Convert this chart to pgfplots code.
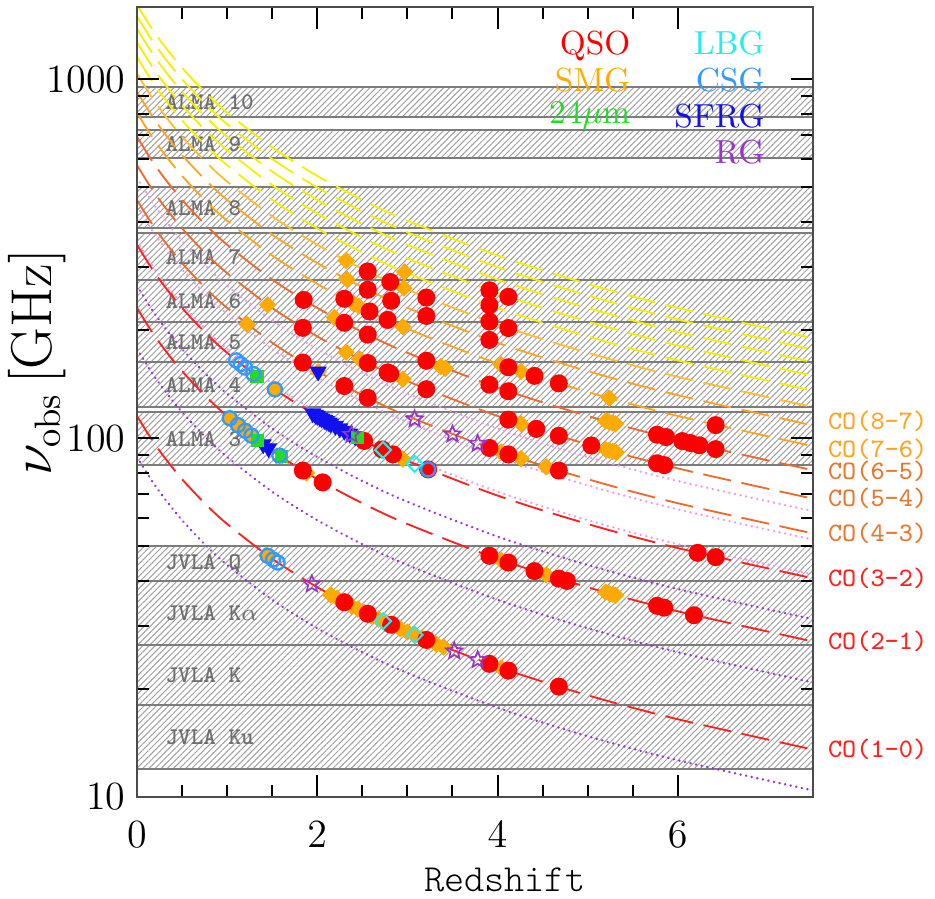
\documentclass[border=0pt]{standalone}
\usepackage{pgfplots}
\pgfplotsset{compat=1.18}
\usepackage{pgfplotstable}
\usetikzlibrary{patterns.meta}

\definecolor{cored}{HTML}{FF2020}
\definecolor{coorange}{HTML}{EC6A2C}
\definecolor{colabelorange}{HTML}{E8782E}
\definecolor{colightorange}{HTML}{FFA420}
\definecolor{coamber}{HTML}{FFBE30}
\definecolor{coyellow}{HTML}{F4F000}
\definecolor{hcnpurple}{HTML}{9A33D6}
\definecolor{hcnpink}{HTML}{EE9CEE}
\definecolor{qso}{HTML}{FF0000}
\definecolor{smg}{HTML}{FFAA00}
\definecolor{mips}{HTML}{22DD22}
\definecolor{lbg}{HTML}{22EEEE}
\definecolor{csg}{HTML}{3399FF}
\definecolor{sfrg}{HTML}{1010F0}
\definecolor{rg}{HTML}{9933CC}
\definecolor{bandedge}{HTML}{7C7C7C}
\definecolor{hatch}{HTML}{A0A0A0}
\definecolor{bandtext}{HTML}{6E6E6E}

% open five-pointed star
\pgfdeclareplotmark{ostar}{%
  \pgfpathmoveto{\pgfpointpolar{90}{\pgfplotmarksize}}%
  \pgfpathlineto{\pgfpointpolar{126}{0.45\pgfplotmarksize}}%
  \pgfpathlineto{\pgfpointpolar{162}{\pgfplotmarksize}}%
  \pgfpathlineto{\pgfpointpolar{198}{0.45\pgfplotmarksize}}%
  \pgfpathlineto{\pgfpointpolar{234}{\pgfplotmarksize}}%
  \pgfpathlineto{\pgfpointpolar{270}{0.45\pgfplotmarksize}}%
  \pgfpathlineto{\pgfpointpolar{306}{\pgfplotmarksize}}%
  \pgfpathlineto{\pgfpointpolar{342}{0.45\pgfplotmarksize}}%
  \pgfpathlineto{\pgfpointpolar{18}{\pgfplotmarksize}}%
  \pgfpathlineto{\pgfpointpolar{54}{0.45\pgfplotmarksize}}%
  \pgfpathclose\pgfusepathqstroke}

% observed frequency of CO (c1..c14) and HCN (h1..h6) lines versus redshift
\pgfplotstableread{
z    c1     c2     c3     c4     c5     c6     c7     c8     c9      c10     c11     c12     c13     c14     h1    h2     h3     h4     h5     h6
0    115.27 230.54 345.81 461.08 576.35 691.62 806.89 922.16 1037.43 1152.70 1267.97 1383.24 1498.51 1613.78 88.63 177.26 265.89 354.52 443.15 531.78
0.15 100.24 200.47 300.70 400.94 501.17 601.41 701.64 801.88 902.11  1002.35 1102.58 1202.82 1303.05 1403.29 77.07 154.14 231.21 308.28 385.35 462.42
0.3  88.67  177.34 266.01 354.68 443.35 532.02 620.68 709.35 798.02  886.69  975.36  1064.03 1152.70 1241.37 68.18 136.35 204.53 272.71 340.88 409.06
0.5  76.85  153.69 230.54 307.39 384.23 461.08 537.93 614.77 691.62  768.47  845.31  922.16  999.01  1075.85 59.09 118.17 177.26 236.35 295.43 354.52
0.75 65.87  131.74 197.61 263.47 329.34 395.21 461.08 526.95 592.82  658.69  724.55  790.42  856.29  922.16  50.65 101.29 151.94 202.58 253.23 303.87
1    57.64  115.27 172.91 230.54 288.18 345.81 403.45 461.08 518.72  576.35  633.99  691.62  749.26  806.89  44.32 88.63  132.95 177.26 221.58 265.89
1.5  46.11  92.22  138.32 184.43 230.54 276.65 322.76 368.86 414.97  461.08  507.19  553.30  599.40  645.51  35.45 70.90  106.36 141.81 177.26 212.71
2    38.42  76.85  115.27 153.69 192.12 230.54 268.96 307.39 345.81  384.23  422.66  461.08  499.50  537.93  29.54 59.09  88.63  118.17 147.72 177.26
2.5  32.93  65.87  98.80  131.74 164.67 197.61 230.54 263.47 296.41  329.34  362.28  395.21  428.15  461.08  25.32 50.65  75.97  101.29 126.61 151.94
3    28.82  57.64  86.45  115.27 144.09 172.91 201.72 230.54 259.36  288.18  316.99  345.81  374.63  403.45  22.16 44.32  66.47  88.63  110.79 132.95
4    23.05  46.11  69.16  92.22  115.27 138.32 161.38 184.43 207.49  230.54  253.59  276.65  299.70  322.76  17.73 35.45  53.18  70.90  88.63  106.36
5    19.21  38.42  57.64  76.85  96.06  115.27 134.48 153.69 172.91  192.12  211.33  230.54  249.75  268.96  14.77 29.54  44.32  59.09  73.86  88.63
6    16.47  32.93  49.40  65.87  82.34  98.80  115.27 131.74 148.20  164.67  181.14  197.61  214.07  230.54  12.66 25.32  37.98  50.65  63.31  75.97
7.5  13.56  27.12  40.68  54.24  67.81  81.37  94.93  108.49 122.05  135.61  149.17  162.73  176.30  189.86  10.43 20.85  31.28  41.71  52.14  62.56
}\curves

% detections: redshift and observed line frequency [GHz]
\pgfplotstableread{
z nu
1.85 242.7
1.84 202.9
1.84 162.4
1.84 81.2
2.06 75.3
2.30 244.5
2.30 209.6
2.30 139.7
2.56 291.4
2.56 259.0
2.58 225.4
2.56 194.3
2.56 161.9
2.56 129.5
2.81 272.3
2.82 241.4
2.78 213.5
2.78 152.5
2.81 151.3
3.21 246.4
3.21 219.0
3.21 164.3
3.21 136.9
3.23 81.8
2.52 98.2
2.72 93.0
2.84 90.1
3.91 258.2
3.91 234.8
4.12 247.6
3.91 211.3
4.12 202.6
3.91 187.8
4.12 157.6
4.41 149.1
4.68 142.1
3.91 140.9
4.12 135.1
4.12 112.6
4.43 106.1
4.68 101.5
5.04 95.4
3.91 93.9
4.12 90.1
4.68 81.2
5.77 102.2
5.87 100.7
6.05 98.1
6.14 96.9
6.24 95.5
6.42 108.7
6.42 93.2
5.77 85.1
5.85 84.1
3.91 47.0
4.12 45.0
4.41 42.6
4.68 40.6
4.77 40.0
5.77 34.1
5.85 33.7
6.18 32.1
6.22 47.9
6.42 46.6
3.91 23.5
4.12 22.5
4.68 20.3
2.30 34.9
2.56 32.4
2.82 30.2
3.21 27.4
}\qsodata

\pgfplotstableread{
z nu
2.32 312.5
2.33 276.9
2.40 237.3
2.46 233.2
2.97 290.4
2.96 262.0
2.19 216.8
1.45 235.2
1.22 207.7
2.32 173.6
2.47 166.1
2.95 204.3
2.95 145.9
3.37 158.3
3.42 156.5
1.88 80.0
2.95 87.5
2.01 153.2
4.04 160.1
4.26 153.4
5.24 129.3
4.26 109.6
5.20 111.6
5.24 110.8
5.28 110.1
5.31 109.6
5.20 93.0
5.24 92.4
5.28 91.8
5.32 91.2
4.04 91.5
4.26 87.7
4.54 83.2
4.04 45.7
4.54 41.6
5.20 37.2
5.24 36.9
5.28 36.7
5.31 36.5
4.04 22.9
1.44 47.2
2.15 36.59
2.22 35.80
2.30 34.93
2.38 34.10
2.45 33.41
2.52 32.75
2.60 32.02
2.68 31.32
2.76 30.66
2.84 30.02
2.92 29.41
3.00 28.82
3.08 28.25
3.16 27.71
3.24 27.19
3.32 26.68
3.40 26.20
1.03 113.6
1.12 108.7
1.20 104.8
1.27 101.6
1.53 136.7
}\smgdata

\pgfplotstableread{
z nu
1.33 148.4
1.34 98.5
1.60 88.7
2.45 100.2
}\mipsdata

\pgfplotstableread{
z nu
2.01 153.2
1.95 117.2
1.98 116.1
2.00 115.3
2.03 114.1
2.05 113.4
2.08 112.3
2.10 111.6
2.13 110.5
2.15 109.8
2.20 108.1
2.25 106.4
2.30 104.8
2.36 102.9
2.42 101.1
1.40 96.1
1.46 93.7
}\sfrgdata

\pgfplotstableread{
z nu
1.10 164.7
1.15 160.8
1.20 157.2
1.29 151.0
1.53 136.7
1.03 113.6
1.12 108.7
1.20 104.8
1.27 101.6
1.58 89.4
3.23 81.8
1.45 47.0
1.51 45.9
1.56 45.0
}\csgdata

\pgfplotstableread{
z nu
2.73 92.7
3.08 84.8
2.73 30.9
3.08 28.3
}\lbgdata

\pgfplotstableread{
z nu
2.38 102.3
3.08 113.0
3.50 102.5
3.78 96.5
1.94 39.2
3.52 25.5
3.78 24.1
}\rgdata

% receiver bands [GHz]
\newcommand{\band}[2]{%
  \addplot[draw=bandedge, line width=0.6pt,
    pattern={Lines[angle=45,distance=1.3pt,line width=0.3pt]},
    pattern color=hatch]
    coordinates {(0,#1) (7.5,#1) (7.5,#2) (0,#2) (0,#1)};}
\newcommand{\bandlabel}[2]{%
  \node[anchor=west, inner sep=0pt, text=bandtext,
    font=\fontsize{7.2}{8}\selectfont\ttfamily\bfseries] at (axis cs:0.31,#1) {#2};}
\newcommand{\colabel}[3]{%
  \node[anchor=west, inner sep=0pt, text=#1,
    font=\fontsize{8}{9}\selectfont\ttfamily] at (axis cs:7.66,#2) {#3};}

\tikzset{
  coline/.style={smooth, line width=0.55pt, dash pattern=on 8.5pt off 3.2pt, #1},
  hcnline/.style={smooth, line width=0.8pt, line cap=round, dash pattern=on 0.01pt off 1.7pt, #1},
}

\begin{document}
\begin{tikzpicture}
\useasboundingbox (-41.1pt,-30.6pt) rectangle (239.4pt,239.1pt);
\begin{axis}[
  scale only axis, width=202.8pt, height=237pt,
  xmin=0, xmax=7.5, ymode=log, ymin=10, ymax=1590,
  xtick={0,2,4,6}, minor x tick num=3,
  ytick={10,100,1000}, yticklabels={10,100,1000},
  tick label style={font=\fontsize{12}{14}\selectfont},
  xticklabel style={yshift=-4pt},
  ylabel={$\nu_{\mathrm{obs}}\,[\mathrm{GHz}]$},
  ylabel style={font=\fontsize{16}{18}\selectfont,
    at={(axis description cs:-0.148,0.55)}, anchor=center},
  axis line style={draw=black!70, line width=0.6pt},
  tick style={black, line width=0.6pt},
  major tick length=6.6pt, minor tick length=3.6pt,
  clip mode=individual,
  axis on top,
]
% ALMA and JVLA bands
\band{787}{950}
\band{602}{720}
\band{385}{500}
\band{275}{373}
\band{211}{275}
\band{163}{211}
\band{122}{163}
\band{84}{118}
\band{40}{50}
\band{26.5}{40}
\band{18}{26.5}
\band{12}{18}
\bandlabel{864.7}{ALMA 10}
\bandlabel{658.4}{ALMA 9}
\bandlabel{438.7}{ALMA 8}
\bandlabel{320.3}{ALMA 7}
\bandlabel{240.9}{ALMA 6}
\bandlabel{185.5}{ALMA 5}
\bandlabel{141.0}{ALMA 4}
\bandlabel{99.6}{ALMA 3}
\bandlabel{44.7}{JVLA Q}
\bandlabel{32.6}{JVLA K$\alpha$}
\bandlabel{21.8}{JVLA K}
\bandlabel{14.7}{JVLA Ku}

% HCN ladder
\addplot[hcnline=hcnpurple] table[x=z,y=h1] {\curves};
\addplot[hcnline=hcnpurple] table[x=z,y=h2] {\curves};
\addplot[hcnline=hcnpurple] table[x=z,y=h3] {\curves};
\addplot[hcnline=hcnpink] table[x=z,y=h4] {\curves};
\addplot[hcnline=hcnpink] table[x=z,y=h5] {\curves};
\addplot[hcnline=hcnpink] table[x=z,y=h6] {\curves};

% CO ladder
\addplot[coline=coyellow] table[x=z,y=c14] {\curves};
\addplot[coline=coyellow] table[x=z,y=c13] {\curves};
\addplot[coline=coyellow] table[x=z,y=c12] {\curves};
\addplot[coline=coyellow] table[x=z,y=c11] {\curves};
\addplot[coline=coyellow] table[x=z,y=c10] {\curves};
\addplot[coline=coamber] table[x=z,y=c9] {\curves};
\addplot[coline=colightorange] table[x=z,y=c8] {\curves};
\addplot[coline=colightorange] table[x=z,y=c7] {\curves};
\addplot[coline=coorange] table[x=z,y=c6] {\curves};
\addplot[coline=coorange] table[x=z,y=c5] {\curves};
\addplot[coline=coorange] table[x=z,y=c4] {\curves};
\addplot[coline=cored] table[x=z,y=c3] {\curves};
\addplot[coline=cored] table[x=z,y=c2] {\curves};
\addplot[coline=cored] table[x=z,y=c1] {\curves};

% detections by galaxy type
\addplot[only marks, mark=square*, mark size=1.65pt, color=smg,
  mark options={rotate=45}] table[x=z,y=nu] {\smgdata};
\addplot[only marks, mark=*, mark size=2.5pt, color=qso] table[x=z,y=nu] {\qsodata};
\addplot[only marks, mark=triangle*, mark size=2.6pt, color=sfrg,
  mark options={rotate=180}] table[x=z,y=nu] {\sfrgdata};
\addplot[only marks, mark=square*, mark size=1.8pt, color=mips] table[x=z,y=nu] {\mipsdata};
\addplot[only marks, mark=o, mark size=2.1pt, color=csg,
  mark options={line width=0.7pt}] table[x=z,y=nu] {\csgdata};
\addplot[only marks, mark=square, mark size=1.7pt, color=lbg,
  mark options={rotate=45, line width=0.6pt}] table[x=z,y=nu] {\lbgdata};
\addplot[only marks, mark=ostar, mark size=2.6pt, color=rg,
  mark options={line width=0.5pt}] table[x=z,y=nu] {\rgdata};

% key
\node[anchor=base east, inner sep=0pt, text=qso, font=\fontsize{10}{12}\selectfont] at (axis cs:5.48,1170) {QSO};
\node[anchor=base east, inner sep=0pt, text=smg, font=\fontsize{10}{12}\selectfont] at (axis cs:5.48,926) {SMG};
\node[anchor=base east, inner sep=0pt, text=mips, font=\fontsize{10}{12}\selectfont] at (axis cs:5.48,754) {24$\mu$m};
\node[anchor=base east, inner sep=0pt, text=lbg, font=\fontsize{10}{12}\selectfont] at (axis cs:6.97,1170) {LBG};
\node[anchor=base east, inner sep=0pt, text=csg, font=\fontsize{10}{12}\selectfont] at (axis cs:6.97,926) {CSG};
\node[anchor=base east, inner sep=0pt, text=sfrg, font=\fontsize{10}{12}\selectfont] at (axis cs:6.97,735) {SFRG};
\node[anchor=base east, inner sep=0pt, text=rg, font=\fontsize{10}{12}\selectfont] at (axis cs:6.97,583) {RG};

% axis title below the tick labels
\node[font=\fontsize{11.5}{13}\selectfont\ttfamily\fontseries{l}\selectfont]
  at (axis description cs:0.544,-0.105) {Redshift};

% line identifications at the right edge
\colabel{colightorange}{111.5}{CO(8-7)}
\colabel{colightorange}{93.2}{CO(7-6)}
\colabel{colabelorange}{81.0}{CO(6-5)}
\colabel{colabelorange}{67.81}{CO(5-4)}
\colabel{colabelorange}{54.24}{CO(4-3)}
\colabel{cored}{40.68}{CO(3-2)}
\colabel{cored}{27.12}{CO(2-1)}
\colabel{cored}{13.56}{CO(1-0)}
\end{axis}
\end{tikzpicture}
\end{document}
